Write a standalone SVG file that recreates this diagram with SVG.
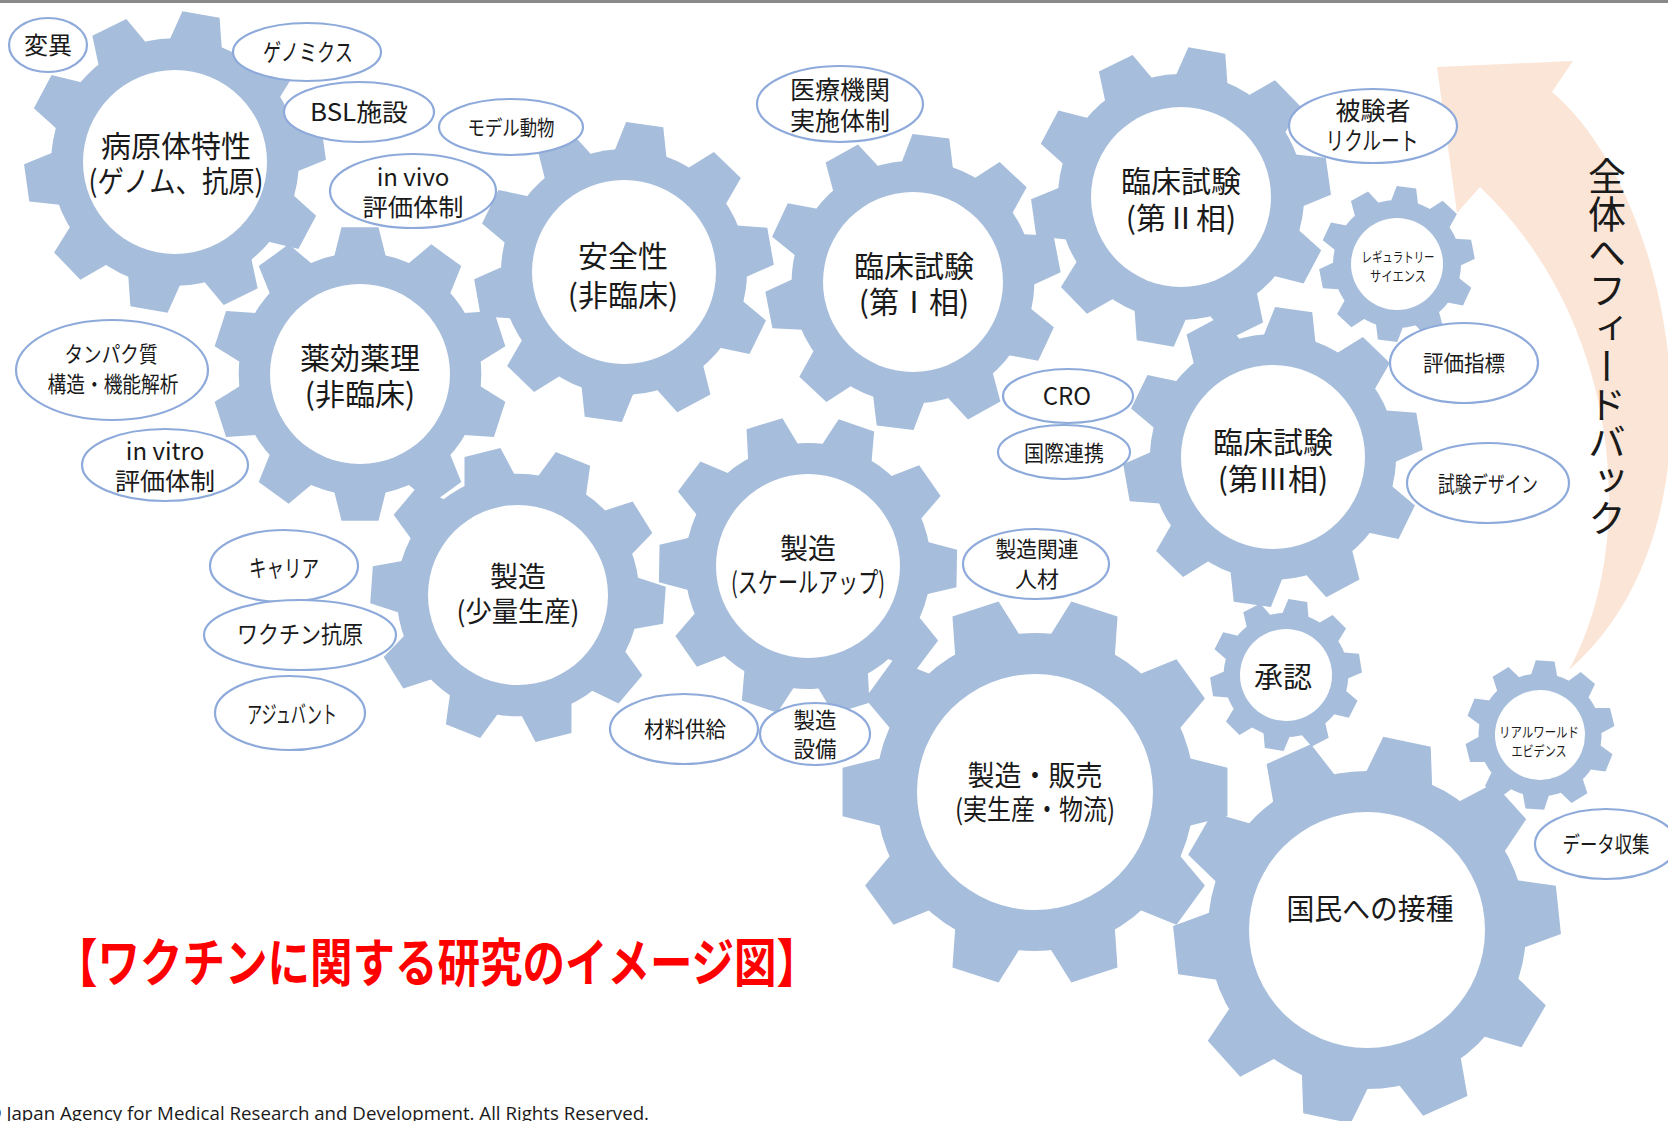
<svg xmlns="http://www.w3.org/2000/svg" width="1668" height="1121" viewBox="0 0 1668 1121">
<style>
.jp{font-family:"Noto Sans CJK JP","Noto Sans",sans-serif;fill:#1a1a1a;text-anchor:middle}
.g30{font-size:30px}.g28{font-size:28px}.g14{font-size:14px}
.e24{font-size:24px}.e22{font-size:22px}
.ell{fill:#fff;stroke:#8EAADB;stroke-width:2.2}
.hole{fill:#fff}
</style>
<defs>
<g id="gear" fill="#A6BDDB">
<circle r="82"/>
<path id="tooth" d="M-17.4,-79.6 L-12.5,-99.2 L12.5,-99.2 L17.4,-79.6 Z"/>
<use href="#tooth" transform="rotate(36)"/>
<use href="#tooth" transform="rotate(72)"/>
<use href="#tooth" transform="rotate(108)"/>
<use href="#tooth" transform="rotate(144)"/>
<use href="#tooth" transform="rotate(180)"/>
<use href="#tooth" transform="rotate(216)"/>
<use href="#tooth" transform="rotate(252)"/>
<use href="#tooth" transform="rotate(288)"/>
<use href="#tooth" transform="rotate(324)"/>
</g>
</defs>
<rect x="0" y="0" width="1668" height="1121" fill="#fff"/>
<rect x="0" y="0" width="1668" height="3" fill="#898989"/>

<g id="connectors">
<g id="feedback">
<path d="M1437,67 L1573,61 L1552,92 C1670,190 1740,520 1569,670 C1640,540 1620,320 1480,187 L1457,213 Z" fill="#FBE5D6"/>
<text x="1607" y="157" style="writing-mode:vertical-rl" font-family="'Noto Sans CJK JP',sans-serif" font-size="38" fill="#1a1a1a">全体へフィードバック</text>
</g>
</g>

<g id="g-pathogen"><use href="#gear" transform="translate(175 162) rotate(10) scale(1.51)"/><circle class="hole" cx="175" cy="162" r="92"/>
<text class="jp g30" x="176" y="157">病原体特性</text><text class="jp g30" x="176" y="192" textLength="175" lengthAdjust="spacingAndGlyphs">(ゲノム、抗原)</text></g>
<g id="g-pharma"><use href="#gear" transform="translate(360 374) rotate(0) scale(1.48)"/><circle class="hole" cx="360" cy="374" r="90"/>
<text class="jp g30" x="360" y="369">薬効薬理</text><text class="jp g30" x="360" y="405">(非臨床)</text></g>
<g id="g-safety"><use href="#gear" transform="translate(624 272) rotate(8) scale(1.5)"/><circle class="hole" cx="624" cy="272" r="92"/>
<text class="jp g30" x="623" y="267">安全性</text><text class="jp g30" x="623" y="306">(非臨床)</text></g>
<g id="g-phase1"><use href="#gear" transform="translate(913 282) rotate(7) scale(1.48)"/><circle class="hole" cx="913" cy="282" r="90"/>
<text class="jp g30" x="914" y="277">臨床試験</text><text class="jp g30" x="914" y="313">(第Ⅰ相)</text></g>
<g id="g-phase2"><use href="#gear" transform="translate(1181 197) rotate(10) scale(1.5)"/><circle class="hole" cx="1181" cy="197" r="90"/>
<text class="jp g30" x="1181" y="192">臨床試験</text><text class="jp g30" x="1181" y="229">(第Ⅱ相)</text></g>
<g id="g-regulatory"><use href="#gear" transform="translate(1397 264) rotate(7) scale(0.78)"/><circle class="hole" cx="1397" cy="264" r="46"/>
<text class="jp g14" x="1398" y="262" textLength="73" lengthAdjust="spacingAndGlyphs">レギュラトリー</text><text class="jp g14" x="1398" y="281" textLength="56" lengthAdjust="spacingAndGlyphs">サイエンス</text></g>
<g id="g-phase3"><use href="#gear" transform="translate(1273 457) rotate(8) scale(1.5)"/><circle class="hole" cx="1273" cy="457" r="92"/>
<text class="jp g30" x="1273" y="453">臨床試験</text><text class="jp g30" x="1273" y="490">(第Ⅲ相)</text></g>
<g id="g-small-prod"><use href="#gear" transform="translate(518 595) rotate(22) scale(1.48)"/><circle class="hole" cx="518" cy="595" r="90"/>
<text class="jp g28" x="518" y="587">製造</text><text class="jp g28" x="518" y="622" textLength="123" lengthAdjust="spacingAndGlyphs">(少量生産)</text></g>
<g id="g-scaleup"><use href="#gear" transform="translate(808 566) rotate(19) scale(1.5)"/><circle class="hole" cx="808" cy="566" r="92"/>
<text class="jp g28" x="808" y="559">製造</text><text class="jp g28" x="808" y="593" textLength="154" lengthAdjust="spacingAndGlyphs">(スケールアップ)</text></g>
<g id="g-approval"><use href="#gear" transform="translate(1286 675) rotate(9) scale(0.76)"/><circle class="hole" cx="1286" cy="675" r="46"/>
<text class="jp" font-size="29" x="1283" y="688">承認</text></g>
<g id="g-production"><use href="#gear" transform="translate(1035 792) rotate(18) scale(1.94)"/><circle class="hole" cx="1035" cy="792" r="118"/>
<text class="jp g28" x="1035" y="786" textLength="135" lengthAdjust="spacingAndGlyphs">製造・販売</text><text class="jp g28" x="1035" y="820" textLength="160" lengthAdjust="spacingAndGlyphs">(実生産・物流)</text></g>
<g id="g-rwe"><use href="#gear" transform="translate(1540 735) rotate(4) scale(0.75)"/><circle class="hole" cx="1540" cy="735" r="45"/>
<text class="jp g14" x="1539" y="737" textLength="80" lengthAdjust="spacingAndGlyphs">リアルワールド</text><text class="jp g14" x="1539" y="756" textLength="55" lengthAdjust="spacingAndGlyphs">エビデンス</text></g>
<g id="g-vaccination"><use href="#gear" transform="translate(1367 930) rotate(12) scale(1.94)"/><circle class="hole" cx="1367" cy="930" r="118"/>
<text class="jp" font-size="29" x="1370" y="920" textLength="167" lengthAdjust="spacingAndGlyphs">国民への接種</text></g>

<g id="e-henni"><ellipse class="ell" cx="48" cy="45" rx="39" ry="27"/><text class="jp e24" x="48" y="54">変異</text></g>
<g id="e-genomics"><ellipse class="ell" cx="307" cy="52" rx="74" ry="29"/><text class="jp e24" x="308" y="61" textLength="90" lengthAdjust="spacingAndGlyphs">ゲノミクス</text></g>
<g id="e-bsl"><ellipse class="ell" cx="359" cy="112" rx="75" ry="30"/><text class="jp e24" x="359" y="121" textLength="98" lengthAdjust="spacingAndGlyphs">BSL施設</text></g>
<g id="e-model"><ellipse class="ell" cx="511" cy="127" rx="72" ry="28"/><text class="jp" font-size="21" x="511" y="135" textLength="87" lengthAdjust="spacingAndGlyphs">モデル動物</text></g>
<g id="e-invivo"><ellipse class="ell" cx="413" cy="191" rx="83" ry="37"/><text class="jp e24" x="413" y="186">in vivo</text><text class="jp e24" x="413" y="216" textLength="101" lengthAdjust="spacingAndGlyphs">評価体制</text></g>
<g id="e-hospital"><ellipse class="ell" cx="840" cy="104" rx="83" ry="38"/><text class="jp" font-size="25" x="840" y="99" textLength="100" lengthAdjust="spacingAndGlyphs">医療機関</text><text class="jp" font-size="25" x="840" y="130" textLength="100" lengthAdjust="spacingAndGlyphs">実施体制</text></g>
<g id="e-recruit"><ellipse class="ell" cx="1373" cy="126" rx="84" ry="37"/><text class="jp" font-size="25" x="1373" y="120" textLength="75" lengthAdjust="spacingAndGlyphs">被験者</text><text class="jp" font-size="25" x="1372" y="150" textLength="93" lengthAdjust="spacingAndGlyphs">リクルート</text></g>
<g id="e-endpoint"><ellipse class="ell" cx="1464" cy="363" rx="74" ry="40"/><text class="jp e22" x="1464" y="371" textLength="82" lengthAdjust="spacingAndGlyphs">評価指標</text></g>
<g id="e-design"><ellipse class="ell" cx="1488" cy="483" rx="81" ry="40"/><text class="jp e22" x="1488" y="492" textLength="100" lengthAdjust="spacingAndGlyphs">試験デザイン</text></g>
<g id="e-protein"><ellipse class="ell" cx="112" cy="370" rx="96" ry="50"/><text class="jp e22" x="111" y="362" textLength="93" lengthAdjust="spacingAndGlyphs">タンパク質</text><text class="jp e22" x="113" y="392" textLength="131" lengthAdjust="spacingAndGlyphs">構造・機能解析</text></g>
<g id="e-invitro"><ellipse class="ell" cx="165" cy="465" rx="83" ry="36"/><text class="jp e24" x="165" y="460">in vitro</text><text class="jp e24" x="165" y="490" textLength="100" lengthAdjust="spacingAndGlyphs">評価体制</text></g>
<g id="e-cro"><ellipse class="ell" cx="1068" cy="396" rx="65" ry="27"/><text class="jp e24" x="1067" y="405">CRO</text></g>
<g id="e-intl"><ellipse class="ell" cx="1064" cy="452" rx="66" ry="27"/><text class="jp e22" x="1064" y="461" textLength="80" lengthAdjust="spacingAndGlyphs">国際連携</text></g>
<g id="e-staff"><ellipse class="ell" cx="1036" cy="564" rx="73" ry="35"/><text class="jp e22" x="1037" y="557" textLength="83" lengthAdjust="spacingAndGlyphs">製造関連</text><text class="jp e22" x="1037" y="587">人材</text></g>
<g id="e-carrier"><ellipse class="ell" cx="284" cy="566" rx="74" ry="36"/><text class="jp e24" x="284" y="577" textLength="70" lengthAdjust="spacingAndGlyphs">キャリア</text></g>
<g id="e-antigen"><ellipse class="ell" cx="300" cy="635" rx="96" ry="35"/><text class="jp e24" x="300" y="643" textLength="126" lengthAdjust="spacingAndGlyphs">ワクチン抗原</text></g>
<g id="e-adjuvant"><ellipse class="ell" cx="290" cy="713" rx="75" ry="37"/><text class="jp e24" x="292" y="723" textLength="90" lengthAdjust="spacingAndGlyphs">アジュバント</text></g>
<g id="e-material"><ellipse class="ell" cx="684" cy="729" rx="74" ry="35"/><text class="jp e22" x="685" y="737" textLength="82" lengthAdjust="spacingAndGlyphs">材料供給</text></g>
<g id="e-equipment"><ellipse class="ell" cx="815" cy="734" rx="55" ry="31"/><text class="jp e22" x="815" y="728" textLength="43" lengthAdjust="spacingAndGlyphs">製造</text><text class="jp e22" x="815" y="757" textLength="43" lengthAdjust="spacingAndGlyphs">設備</text></g>
<g id="e-data"><ellipse class="ell" cx="1606" cy="844" rx="71" ry="35"/><text class="jp e22" x="1606" y="852" textLength="87" lengthAdjust="spacingAndGlyphs">データ収集</text></g>

<text x="55" y="982" font-family="'Noto Sans CJK JP',sans-serif" font-size="52" font-weight="700" fill="#FF0000" textLength="764" lengthAdjust="spacingAndGlyphs">【ワクチンに関する研究のイメージ図】</text>
<text x="-14" y="1120" font-family="'Open Sans',sans-serif" font-size="18" fill="#1a1a1a" textLength="663" lengthAdjust="spacingAndGlyphs">© Japan Agency for Medical Research and Development. All Rights Reserved.</text>
</svg>
